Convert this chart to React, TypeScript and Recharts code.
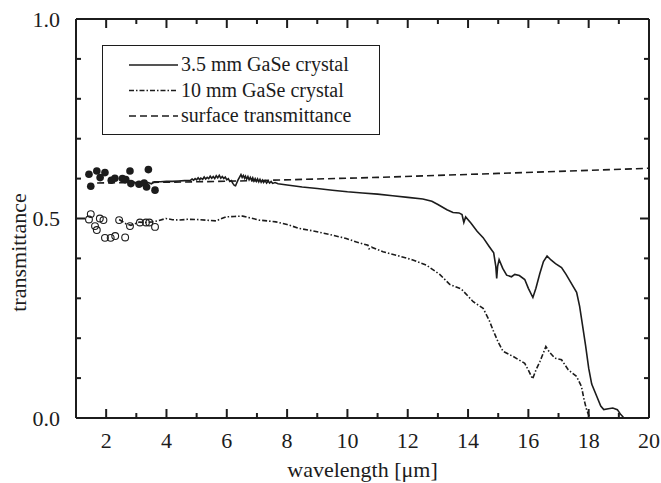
import React from 'react';
import { ComposedChart, Line, Scatter, XAxis, YAxis, Legend, ReferenceLine } from 'recharts';

const FONT = 'Liberation Serif';
const INK = '#1c1c1c';
const DASHED = '7 4';
const DASH_DOT = '5 2 1.5 2';

// [wavelength in um, transmittance]
const gase35: [number, number][] = [
  [2.5, 0.596], [2.6, 0.59], [2.7, 0.594], [2.8, 0.585], [2.9, 0.592], [3.0, 0.588],
  [3.1, 0.582], [3.2, 0.59], [3.3, 0.584], [3.4, 0.59], [3.5, 0.587], [3.6, 0.592],
  [3.8, 0.592], [4.0, 0.593], [4.2, 0.593], [4.4, 0.594], [4.6, 0.595],
  [4.8, 0.596], [4.85, 0.599], [4.9, 0.596], [4.95, 0.6], [5.0, 0.597], [5.05, 0.602],
  [5.1, 0.597], [5.14, 0.601], [5.2, 0.598], [5.25, 0.604], [5.3, 0.599], [5.35, 0.603],
  [5.4, 0.6], [5.45, 0.606], [5.5, 0.601], [5.55, 0.605], [5.6, 0.6], [5.65, 0.607],
  [5.7, 0.602], [5.75, 0.608], [5.8, 0.601], [5.85, 0.605], [5.9, 0.6], [5.95, 0.604],
  [6.0, 0.597], [6.05, 0.6], [6.1, 0.593], [6.15, 0.595], [6.2, 0.588], [6.25, 0.583],
  [6.29, 0.582], [6.33, 0.589], [6.37, 0.596], [6.42, 0.603], [6.47, 0.61], [6.51, 0.603],
  [6.55, 0.608], [6.59, 0.601], [6.62, 0.606], [6.66, 0.599], [6.7, 0.605], [6.74, 0.597],
  [6.78, 0.603], [6.82, 0.596], [6.86, 0.602], [6.9, 0.594], [6.94, 0.6], [6.98, 0.593],
  [7.02, 0.599], [7.06, 0.592], [7.1, 0.598], [7.14, 0.591], [7.18, 0.596], [7.22, 0.59],
  [7.27, 0.595], [7.32, 0.589], [7.37, 0.594], [7.42, 0.589], [7.47, 0.593], [7.52, 0.588],
  [7.6, 0.59], [7.7, 0.587], [8.0, 0.584], [8.5, 0.579], [9.0, 0.575],
  [9.5, 0.571], [10.0, 0.567], [10.5, 0.564], [11.0, 0.561], [11.5, 0.557], [12.0, 0.553],
  [12.5, 0.549], [12.8, 0.543], [13.0, 0.535], [13.3, 0.522], [13.5, 0.515], [13.7, 0.514],
  [13.8, 0.51], [13.86, 0.49], [13.92, 0.504], [14.1, 0.488], [14.3, 0.468], [14.5, 0.452],
  [14.7, 0.43], [14.85, 0.414], [14.92, 0.38], [14.95, 0.35], [14.98, 0.38], [15.03, 0.397],
  [15.15, 0.375], [15.28, 0.358], [15.44, 0.354], [15.55, 0.36], [15.7, 0.357], [15.88, 0.347],
  [16.0, 0.325], [16.15, 0.302], [16.25, 0.325], [16.38, 0.362], [16.5, 0.392], [16.62, 0.406],
  [16.75, 0.396], [16.9, 0.387], [17.1, 0.377], [17.25, 0.36], [17.43, 0.337], [17.6, 0.315],
  [17.7, 0.28], [17.8, 0.23], [17.9, 0.18], [18.0, 0.125], [18.1, 0.085], [18.27, 0.054],
  [18.4, 0.03], [18.5, 0.021], [18.65, 0.023], [18.8, 0.025], [18.95, 0.021], [19.05, 0.01],
  [19.15, 0.002],
];

const gase10: [number, number][] = [
  [2.43, 0.4975], [2.55, 0.492], [2.65, 0.487], [2.82, 0.483], [3.0, 0.488], [3.1, 0.491],
  [3.3, 0.49], [3.53, 0.4915], [3.75, 0.495], [3.98, 0.5], [4.2, 0.497], [4.42, 0.496],
  [4.7, 0.498], [4.98, 0.4975], [5.3, 0.496], [5.64, 0.494], [5.8, 0.499], [5.97, 0.504],
  [6.25, 0.505], [6.53, 0.506], [6.8, 0.501], [7.08, 0.496], [7.35, 0.494], [7.63, 0.4915],
  [8.0, 0.485], [8.41, 0.475], [8.85, 0.469], [9.4, 0.46], [9.96, 0.45], [10.3, 0.441],
  [10.68, 0.433], [10.72, 0.424], [10.8, 0.428], [11.18, 0.4165], [11.62, 0.408], [12.17, 0.396],
  [12.62, 0.383], [13.06, 0.36], [13.39, 0.335], [13.78, 0.323], [14.17, 0.2915], [14.5, 0.275],
  [14.7, 0.245], [14.83, 0.22], [15.0, 0.19], [15.16, 0.167], [15.5, 0.154], [15.88, 0.137],
  [16.0, 0.12], [16.14, 0.098], [16.25, 0.12], [16.38, 0.141], [16.58, 0.179], [16.7, 0.165],
  [16.88, 0.15], [17.1, 0.146], [17.32, 0.121], [17.6, 0.104], [17.76, 0.079], [17.85, 0.045],
  [17.93, 0.021], [18.04, 0.0],
];

const surfaceT: [number, number][] = [
  [1.7, 0.589], [3, 0.59], [5, 0.592], [7, 0.595], [9, 0.599], [11, 0.603],
  [13, 0.608], [15, 0.613], [17, 0.618], [20, 0.626],
];

const dotsFilled: [number, number][] = [
  [1.43, 0.611], [1.49, 0.581], [1.69, 0.619], [1.8, 0.6025], [1.96, 0.615], [2.17, 0.596],
  [2.29, 0.601], [2.54, 0.6], [2.65, 0.5975], [2.79, 0.619], [2.82, 0.5875], [3.09, 0.586],
  [3.26, 0.589], [3.34, 0.579], [3.4, 0.6225], [3.62, 0.571],
];

const dotsOpen: [number, number][] = [
  [1.49, 0.511], [1.43, 0.4975], [1.63, 0.481], [1.69, 0.471], [1.79, 0.5], [1.91, 0.496],
  [1.96, 0.4515], [2.15, 0.4515], [2.3, 0.456], [2.43, 0.496], [2.63, 0.4525], [2.79, 0.481],
  [3.12, 0.49], [3.32, 0.49], [3.43, 0.49], [3.62, 0.479],
];

const xMajor = [2, 4, 6, 8, 10, 12, 14, 16, 18, 20];
const xMinor = [3, 5, 7, 9, 11, 13, 15, 17, 19];
const yMajor = [0, 0.5, 1.0];
const yMinor = [0.1, 0.2, 0.3, 0.4, 0.6, 0.7, 0.8, 0.9];

const legendRows = [
  { name: '3.5 mm GaSe crystal', dash: undefined },
  { name: '10 mm GaSe crystal', dash: DASH_DOT },
  { name: 'surface transmittance', dash: DASHED },
];

const X_DOMAIN: [number, number] = [1, 20];
const Y_DOMAIN: [number, number] = [0, 1];
// inward tick lengths in axis units (plot is ~573 x 399 px)
const X_UNIT_PX = 573 / 19;
const Y_UNIT_PX = 399;
const MAJOR_PX = 9;
const MINOR_PX = 5;

const rows = (pts: [number, number][]) => pts.map(([wl, t]) => ({ wl, t }));

const axisFont = { fontFamily: FONT, fontSize: 22, fill: INK };
const stroke2 = { stroke: INK, strokeWidth: 2 };

const FilledDot = (p: any) => <circle cx={p.cx} cy={p.cy} r={3.8} fill={INK} />;
const OpenDot = (p: any) => <circle cx={p.cx} cy={p.cy} r={3.4} fill="none" stroke={INK} strokeWidth={1.1} />;

const LegendBox = () => (
  <div style={{ width: 278, height: 90, boxSizing: 'border-box', border: `1.3px solid ${INK}`, background: '#fff' }}>
    <svg width={276} height={88} style={{ display: 'block' }}>
      {legendRows.map((r, i) => {
        const cy = 19 + 25.5 * i;
        return (
          <g key={r.name}>
            <line x1={26} x2={75} y1={cy} y2={cy} stroke={INK} strokeWidth={1.6} strokeDasharray={r.dash} />
            <text x={78} y={cy + 6} fontFamily={FONT} fontSize={20} fill={INK}>
              {r.name}
            </text>
          </g>
        );
      })}
    </svg>
  </div>
);

// tick marks on all four sides, pointing into the plot
const xMarks = (vals: number[], px: number) =>
  vals.flatMap((v) => {
    const dy = px / Y_UNIT_PX;
    return [
      <ReferenceLine key={`b${v}`} segment={[{ x: v, y: Y_DOMAIN[0] }, { x: v, y: Y_DOMAIN[0] + dy }]} {...stroke2} ifOverflow="visible" />,
      <ReferenceLine key={`t${v}`} segment={[{ x: v, y: Y_DOMAIN[1] }, { x: v, y: Y_DOMAIN[1] - dy }]} {...stroke2} ifOverflow="visible" />,
    ];
  });

const yMarks = (vals: number[], px: number) =>
  vals.flatMap((v) => {
    const dx = px / X_UNIT_PX;
    return [
      <ReferenceLine key={`l${v}`} segment={[{ x: X_DOMAIN[0], y: v }, { x: X_DOMAIN[0] + dx, y: v }]} {...stroke2} ifOverflow="visible" />,
      <ReferenceLine key={`r${v}`} segment={[{ x: X_DOMAIN[1], y: v }, { x: X_DOMAIN[1] - dx, y: v }]} {...stroke2} ifOverflow="visible" />,
    ];
  });

export default function App() {
  return (
    <div style={{ position: 'absolute', left: 0, top: 0, background: '#fff' }}>
      <ComposedChart width={661} height={483} margin={{ top: 19, right: 12, bottom: 0, left: 0 }}>
        <XAxis dataKey="wl" type="number" domain={X_DOMAIN} ticks={xMajor} interval={0} height={65}
          tickLine={false} tickMargin={8} axisLine={false} tick={axisFont}
          label={{ value: 'wavelength [μm]', position: 'insideBottom', offset: 6, ...axisFont }} />
        <YAxis type="number" domain={Y_DOMAIN} ticks={yMajor} interval={0} width={76} tickLine={false}
          tickMargin={10} axisLine={false} tick={axisFont} tickFormatter={(v: number) => v.toFixed(1)}
          label={{ value: 'transmittance', position: 'insideLeft', angle: -90, offset: 18, dy: 34, textAnchor: 'middle', ...axisFont }} />
        {/* plot frame */}
        <ReferenceLine y={Y_DOMAIN[0]} {...stroke2} ifOverflow="visible" />
        <ReferenceLine y={Y_DOMAIN[1]} {...stroke2} ifOverflow="visible" />
        <ReferenceLine x={X_DOMAIN[0]} {...stroke2} ifOverflow="visible" />
        <ReferenceLine x={X_DOMAIN[1]} {...stroke2} ifOverflow="visible" />
        {xMarks(xMajor, MAJOR_PX)}
        {xMarks(xMinor, MINOR_PX)}
        {yMarks(yMajor, MAJOR_PX)}
        {yMarks(yMinor, MINOR_PX)}
        <Line data={rows(surfaceT)} dataKey="t" name="surface transmittance" type="linear" dot={false}
          stroke={INK} strokeWidth={1.6} strokeDasharray={DASHED} isAnimationActive={false} />
        <Line data={rows(gase10)} dataKey="t" name="10 mm GaSe crystal" type="linear" dot={false}
          stroke={INK} strokeWidth={1.6} strokeDasharray={DASH_DOT} isAnimationActive={false} />
        <Line data={rows(gase35)} dataKey="t" name="3.5 mm GaSe crystal" type="linear" dot={false}
          stroke={INK} strokeWidth={1.6} isAnimationActive={false} />
        <Scatter data={rows(dotsFilled)} dataKey="t" legendType="none" shape={FilledDot} isAnimationActive={false} />
        <Scatter data={rows(dotsOpen)} dataKey="t" legendType="none" shape={OpenDot} isAnimationActive={false} />
        <Legend layout="vertical" align="center" verticalAlign="middle" content={() => <LegendBox />}
          wrapperStyle={{ left: 102, top: 45, width: 278, height: 90 }} />
      </ComposedChart>
    </div>
  );
}
